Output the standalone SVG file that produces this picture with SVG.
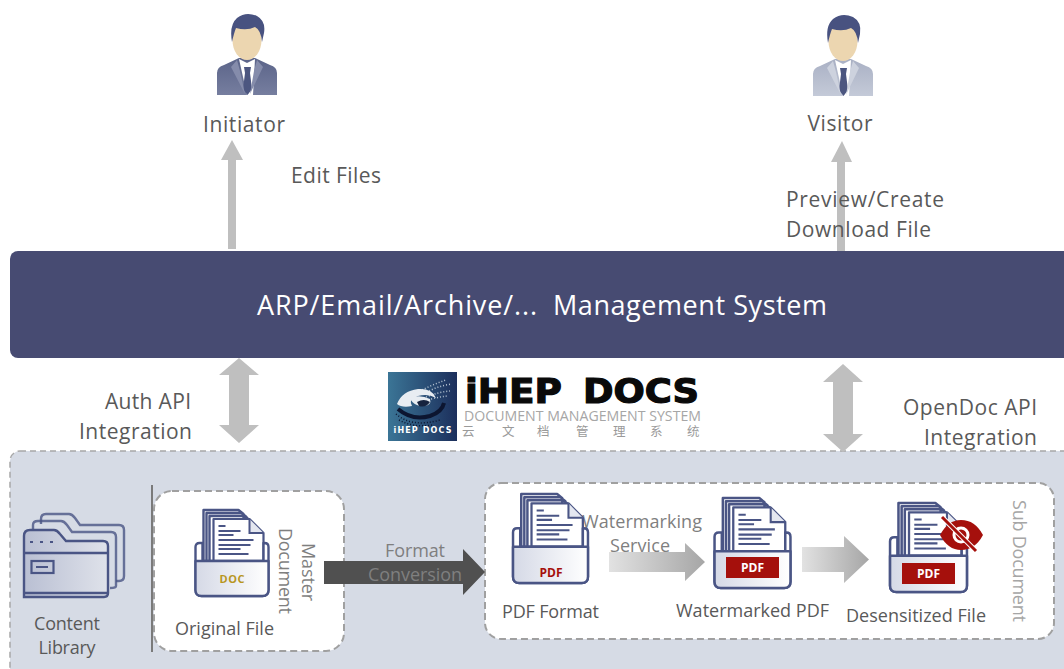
<svg xmlns="http://www.w3.org/2000/svg" width="1064" height="669" viewBox="0 0 1064 669">
<style>
text{font-family:"Open Sans","Noto Sans","Liberation Sans",sans-serif;fill:#595959;font-size:21px}
.s{font-size:18px}
.m{text-anchor:middle}
.g{fill:#7f7f7f}
.lg{fill:#a6a6a6}
.box{fill:#fff;stroke:#a0a0a0;stroke-width:2;stroke-dasharray:7 4}
.ic{fill:none;stroke:#4a5585;stroke-width:2.4;stroke-linejoin:round}
.ln{stroke:#4a5585;stroke-width:2}
.ga{fill:#bfbfbf}
.pdf{font-size:12px;font-weight:700;text-anchor:middle}
.logo{fill:#0a0a0a;font-size:34px;font-weight:700;font-family:"DejaVu Sans",sans-serif;stroke:#0a0a0a;stroke-width:1.2}
</style>
<defs>
<linearGradient id="holder" x1="0" y1="0" x2="1" y2="0"><stop offset="0" stop-color="#d5d9e6"/><stop offset="1" stop-color="#fff"/></linearGradient>
<linearGradient id="folder" x1="0" y1="0" x2="1" y2="0"><stop offset="0" stop-color="#b9bfd3"/><stop offset="1" stop-color="#dfe2ea"/></linearGradient>
<linearGradient id="flow" x1="0" y1="0" x2="1" y2="0"><stop offset="0" stop-color="#e2e2e2"/><stop offset="1" stop-color="#a6a6a6"/></linearGradient>
<linearGradient id="suit" x1="0" y1="0" x2="0" y2="1"><stop offset="0" stop-color="#5b6489"/><stop offset="1" stop-color="#767e9f"/></linearGradient>
<linearGradient id="suit2" x1="0" y1="0" x2="0" y2="1"><stop offset="0" stop-color="#a9b0c4"/><stop offset="1" stop-color="#c4cad8"/></linearGradient>
<linearGradient id="logoBg" x1="0" y1="0" x2="1" y2="0"><stop offset="0" stop-color="#3b7596"/><stop offset="1" stop-color="#1c2f5c"/></linearGradient>
<symbol id="doc" viewBox="0 0 75 88" preserveAspectRatio="none" overflow="visible">
<path class="ic" d="M9 52V1H44L49 5V52M12 52V4H47L52 8V52M15 52V7H50L55 11"/>
<path d="M19 52V10H55L69 24V52Z" fill="#fff" stroke="#4a5585" stroke-width="2.2" stroke-linejoin="round"/>
<path d="M55 10V24H69" fill="#e4e7f0" stroke="#4a5585" stroke-width="2"/>
<path class="ln" d="M24 17H31M24 22H46M24 26H39M24 31H59M24 36H56M24 40H46M24 45H54"/>
<path d="M8 34H5Q1 34 1 38V81Q1 87 7 87H68Q74 87 74 81V38Q74 34 70 34H69V52H8Z" fill="#fff" stroke="#4a5585" stroke-width="2.4" stroke-linejoin="round"/>
<path d="M1 52H74V81Q74 87 68 87H7Q1 87 1 81Z" fill="url(#holder)" stroke="#4a5585" stroke-width="2.4" stroke-linejoin="round"/>
</symbol>
<symbol id="person" viewBox="0 0 60 82" overflow="visible">
<path d="M0 82V60Q0 54 7 52L22 45H38L53 52Q60 54 60 60V82Z" fill="var(--suit)"/>
<path d="M22 46L30 82H36L38 46L30 50Z" fill="#fff"/>
<path d="M27 54H34L33 60L35 76L30.500 82L26 76L28 60Z" fill="#4c5680"/>
<path d="M20 47L14 54L28 81L23 58ZM40 47L46 54L33 81L37 58Z" fill="var(--lapel)"/>
<ellipse cx="30" cy="27" rx="14.500" ry="20" fill="#ecd6b0"/>
<path d="M15 29Q12 12 20 5Q29 -2 40 3Q49 8 47 20L45 29Q44 17 38 14Q30 18 19 15Q17 20 15 29Z" fill="#485280"/>
</symbol>
</defs>

<g id="panel"><rect x="10" y="451" width="1080" height="240" rx="10" fill="#d6dbe5" stroke="#a8a8a8" stroke-width="1.5" stroke-dasharray="6 4"/></g>

<g id="system"><rect x="10" y="251" width="1080" height="107" rx="8" fill="#474b72"/>
<text x="257" y="315" style="fill:#fff;font-size:27px" textLength="280">ARP/Email/Archive/...</text>
<text x="553" y="315" style="fill:#fff;font-size:27px" textLength="274">Management System</text></g>

<g id="master-box"><rect class="box" x="154" y="491" width="190" height="160" rx="18"/></g>
<g id="sub-box"><rect class="box" x="485" y="483" width="569" height="156" rx="16"/></g>

<g id="connectors">
<path class="ga" d="M228 249V160H221L232 140L243 160H236V249Z"/>
<path class="ga" d="M837 251V162H831L842 141L852 162H845V251Z"/>
<path class="ga" d="M239 358L259 375H249V425H259L239 443L219 425H229V375H219Z"/>
<path class="ga" d="M843 364L863 382H853V434H863L843 452L823 434H833V382H823Z"/>
<path fill="#505050" d="M324 561H463V549L485 572L463 595V584H324Z"/>
<path fill="url(#flow)" d="M609 552H685V543L705 562L685 581V572H609Z"/>
<path fill="url(#flow)" d="M802 547H844V536L869 559.500L844 583V572H802Z"/>
</g>

<g id="initiator"><use href="#person" x="217" y="13" width="60" height="82" style="--suit:url(#suit);--lapel:#858cab"/><text x="244" y="131.500" class="m" textLength="82">Initiator</text></g>
<g id="visitor"><use href="#person" x="813" y="14" width="60" height="82" style="--suit:url(#suit2);--lapel:#cdd2de"/><text x="840" y="130.500" class="m" textLength="65">Visitor</text></g>

<g id="labels">
<text x="291" y="182.500" textLength="90">Edit Files</text>
<text x="786" y="206.500" textLength="158">Preview/Create</text>
<text x="786" y="236.500" textLength="145">Download File</text>
<text x="191" y="408.500" text-anchor="end" textLength="86">Auth API</text>
<text x="192" y="438.500" text-anchor="end" textLength="113">Integration</text>
<text x="1037" y="414.500" text-anchor="end" textLength="134">OpenDoc API</text>
<text x="1037" y="444.500" text-anchor="end" textLength="113">Integration</text>
</g>

<g id="logo">
<rect x="388" y="372" width="69" height="69" fill="url(#logoBg)"/>
<path d="M424 394Q436 386 452 384M426 397Q438 392 450 391M428 400Q438 397 447 396M422 390Q434 384 446 380" fill="none" stroke="#b9c6d4" stroke-width="1.500" stroke-dasharray="1 2"/>
<path d="M397 404Q402 391 418 389Q432 388 436 398Q428 393 418 396Q408 400 412 406Q402 408 397 404Z" fill="#e8edf2"/>
<path d="M410 398Q420 394 430 399Q432 405 424 406Q414 407 410 398Z" fill="#e8edf2"/>
<path d="M398 409Q412 421 430 416Q442 412 444 403" fill="none" stroke="#0c1530" stroke-width="4"/>
<path d="M396 414Q412 428 440 420M399 420Q414 428 432 425" fill="none" stroke="#0c1530" stroke-width="1.500" stroke-dasharray="1 2"/>
<path d="M417 402Q424 398 430 402Q426 408 419 406Z" fill="#16233f"/>
<text x="422.500" y="433" class="m" style="fill:#fff;font-size:8px;font-weight:700;font-family:'DejaVu Sans',sans-serif" textLength="58">iHEP DOCS</text>
<text x="465" y="403" class="logo" textLength="97" lengthAdjust="spacingAndGlyphs">iHEP</text>
<text x="583" y="403" class="logo" textLength="116" lengthAdjust="spacingAndGlyphs">DOCS</text>
<text x="464" y="420.500" style="fill:#a6a6a6;font-size:15px" textLength="237" lengthAdjust="spacingAndGlyphs">DOCUMENT MANAGEMENT SYSTEM</text>
<text x="462 502 537 576 613 650 687" y="436" style="fill:#9a9a9a;font-size:12.500px;font-family:'Noto Sans CJK SC',sans-serif">云文档管理系统</text>
</g>

<g id="content-library">
<path class="ic" d="M41 524V519Q41 514 46 514H69Q72 514 75 518L80 525H119Q124 525 124 530V576Q124 581 119 581H116" stroke-width="2" opacity=".8"/>
<path class="ic" d="M33 530V525Q33 521 38 521H61Q64 521 67 525L72 532H111Q116 532 116 537V586Q116 588 110 588" stroke-width="2" opacity=".8"/>
<path d="M24 597V536Q24 530 30 530H54Q57 530 60 534L66 541H103Q108 541 108 546V593Q108 597 104 597Z" fill="url(#folder)" stroke="#4a5585" stroke-width="2.400"/>
<path class="ic" d="M24 553H108M24 593H108"/>
<path class="ln" stroke-dasharray="3 7" d="M30 542H55"/>
<rect x="31.500" y="561" width="22" height="12" fill="none" stroke="#4a5585" stroke-width="2.200"/>
<path class="ln" d="M36 567H48"/>
<text x="67" y="630" class="m s" textLength="66">Content</text>
<text x="67" y="654" class="m s" textLength="57">Library</text>
</g>
<path d="M152 485V652" stroke="#7a7a7a" stroke-width="2" fill="none"/>

<g id="master-document">
<use href="#doc" x="194.500" y="509" width="75" height="88"/>
<text x="232" y="583" class="m" style="fill:#b8961e;font-size:11px;font-weight:700" textLength="25">DOC</text>
<text x="175" y="635" class="s" textLength="99">Original File</text>
<text transform="translate(302 543) rotate(90)" class="g s" textLength="58">Master</text>
<text transform="translate(279 528) rotate(90)" class="g s" textLength="86">Document</text>
</g>

<g id="sub-document">
<text transform="translate(1013 500) rotate(90)" class="lg s" textLength="122">Sub Document</text>
</g>

<g id="conversion-labels">
<text x="415" y="557" class="m g s" textLength="60">Format</text>
<text x="415" y="581" class="m g s" textLength="94">Conversion</text>
<text x="642" y="528" class="m g s" textLength="120">Watermarking</text>
<text x="640" y="552" class="m g s" textLength="60">Service</text>
</g>

<g id="pdf-format">
<use href="#doc" x="512" y="493" width="77" height="91"/>
<text x="551" y="577" class="pdf" style="fill:#a5100c">PDF</text>
<text x="502" y="618" class="s" textLength="97">PDF Format</text>
</g>
<g id="watermarked-pdf">
<use href="#doc" x="713.500" y="497" width="78" height="92"/>
<rect x="726" y="557" width="53" height="21" fill="#a5100c"/>
<text x="752.500" y="572" class="pdf" style="fill:#fff">PDF</text>
<text x="676" y="617" class="s" textLength="153">Watermarked PDF</text>
</g>
<g id="desensitized-file">
<use href="#doc" x="889" y="502" width="79" height="91"/>
<rect x="902" y="563" width="53" height="21" fill="#a5100c"/>
<text x="928.500" y="578" class="pdf" style="fill:#fff">PDF</text>
<path d="M940 535Q948 520 961 520Q975 520 983 535Q975 550 961 550Q948 550 940 535Z" fill="#a5100c"/>
<circle cx="961" cy="535" r="7" fill="none" stroke="#fff" stroke-width="3"/>
<path d="M943 518L975 550" stroke="#fff" stroke-width="5"/>
<path d="M942 517L976 551" stroke="#a5100c" stroke-width="3"/>
<text x="846" y="622" class="s" textLength="140">Desensitized File</text>
</g>
</svg>
